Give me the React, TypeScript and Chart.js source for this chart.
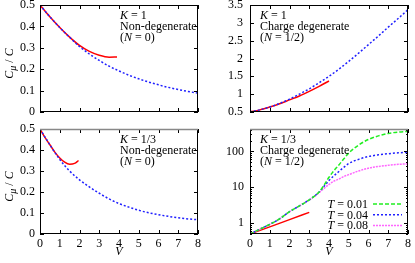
import { useEffect, useRef } from 'react';
import { Chart, registerables } from 'chart.js';

Chart.register(...registerables);

const FONT = '"Liberation Serif", "DejaVu Serif", serif';
const FS = 12;

// ---------- data ----------
const xTicks = [0, 1, 2, 3, 4, 5, 6, 7, 8];
const yTicksNonDeg = [0, 0.1, 0.2, 0.3, 0.4, 0.5];
const yTicksDeg1 = [0.5, 1, 1.5, 2, 2.5, 3, 3.5];
const yTicksLog = [0.5, 0.6, 0.7, 0.8, 0.9, 1, 2, 3, 4, 5, 6, 7, 8, 9, 10, 20, 30, 40, 50, 60, 70, 80, 90, 100, 200, 300, 400];
const yLogMajor = [1, 10, 100];

const vGrid = [0, 0.5, 1, 1.5, 2, 2.5, 3, 3.5, 4, 4.5, 5, 5.5, 6, 6.5, 7, 7.5, 8];

// K = 1, non-degenerate
const k1NonDegExact = [0.5, 0.445, 0.395, 0.349, 0.306, 0.271, 0.241, 0.214, 0.192, 0.172, 0.155, 0.14, 0.127, 0.115, 0.105, 0.096, 0.088];
const k1NonDegApproxV = [0, 0.5, 1, 1.5, 2, 2.5, 3, 3.5, 3.9];
const k1NonDegApprox = [0.5, 0.445, 0.395, 0.35, 0.311, 0.283, 0.265, 0.256, 0.257];

// K = 1, charge degenerate
const k1DegExact = [0.5, 0.56, 0.64, 0.74, 0.86, 1.0, 1.15, 1.32, 1.5, 1.7, 1.92, 2.15, 2.39, 2.63, 2.88, 3.12, 3.37];
const k1DegApproxV = [0, 0.5, 1, 1.5, 2, 2.5, 3, 3.5, 4];
const k1DegApprox = [0.5, 0.56, 0.64, 0.73, 0.84, 0.95, 1.08, 1.22, 1.37];

// K = 1/3, non-degenerate
const k3NonDegExact = [0.5, 0.425, 0.355, 0.3, 0.258, 0.224, 0.194, 0.167, 0.145, 0.128, 0.113, 0.101, 0.092, 0.084, 0.077, 0.072, 0.068];
const k3NonDegApproxV = [0, 0.25, 0.5, 0.75, 1, 1.25, 1.5, 1.75, 1.95];
const k3NonDegApprox = [0.5, 0.46, 0.425, 0.39, 0.362, 0.342, 0.332, 0.336, 0.35];

// K = 1/3, charge degenerate (log scale)
const vLog = [0, 0.5, 1, 1.5, 2, 2.5, 3, 3.25, 3.5, 3.75, 4, 4.25, 4.5, 4.75, 5, 5.5, 6, 6.5, 7, 7.5, 8];
const k3DegT001 = [0.5, 0.68, 0.93, 1.32, 2.09, 3.02, 4.47, 5.6, 7.4, 11.5, 19, 29, 42, 62, 90, 150, 215, 270, 316, 345, 360];
const k3DegT004 = [0.5, 0.68, 0.93, 1.32, 2.09, 3.02, 4.47, 5.6, 7.4, 10.7, 15.5, 21, 27.5, 36, 46, 60, 72, 80, 86, 91, 94];
const k3DegT008 = [0.5, 0.68, 0.93, 1.32, 2.09, 3.02, 4.45, 5.5, 7.1, 9.3, 12, 14.8, 17, 20, 22.5, 28.5, 34, 38, 41, 43.5, 45];
const k3DegApproxV = [0, 1, 2, 3];
const k3DegApprox = [0.5, 0.79, 1.26, 2.0];

const legendLabels = ['0.01', '0.04', '0.08'];

// ---------- styles ----------
const RED = '#ff0000';
const BLUE = '#2020ff';
const GREEN = '#22ee22';
const MAGENTA = '#ff66ff';

type Seg = { t: string; it?: boolean; sub?: boolean };

function segFont(s: Seg, size: number) {
  return `${s.it ? 'italic ' : ''}${s.sub ? Math.round(size * 0.8) : size}px ${FONT}`;
}

function drawRich(ctx: CanvasRenderingContext2D, segs: Seg[], x: number, y: number, size: number, align: 'left' | 'right' | 'center') {
  let total = 0;
  const ws = segs.map((s) => {
    ctx.font = segFont(s, size);
    const w = ctx.measureText(s.t).width;
    total += w;
    return w;
  });
  let cx = align === 'left' ? x : align === 'right' ? x - total : x - total / 2;
  ctx.textAlign = 'left';
  ctx.textBaseline = 'alphabetic';
  segs.forEach((s, i) => {
    ctx.font = segFont(s, size);
    ctx.fillText(s.t, cx, y + (s.sub ? 3 : 0));
    cx += ws[i];
  });
}

const noteLines = (k: string, kind: string, n: string): Seg[][] => [
  [{ t: 'K', it: true }, { t: ' = ' + k }],
  [{ t: kind }],
  [{ t: '(' }, { t: 'N', it: true }, { t: ' = ' + n + ')' }],
];

const framePlugin = {
  id: 'frame',
  afterDraw(chart: any, _args: any, opts: any) {
    const { ctx, chartArea: a, scales } = chart;
    ctx.save();
    ctx.fillStyle = '#000';
    ctx.strokeStyle = '#000';
    ctx.lineWidth = 1;
    const xs = scales.x;
    const ys = scales.y;
    ctx.beginPath();
    xs.ticks.forEach((t: any) => {
      const px = Math.round(xs.getPixelForValue(t.value)) + 0.5;
      ctx.moveTo(px, a.bottom);
      ctx.lineTo(px, a.bottom - 4);
      ctx.moveTo(px, a.top);
      ctx.lineTo(px, a.top + 4);
    });
    ys.ticks.forEach((t: any) => {
      const major = !opts.logMajor || opts.logMajor.includes(t.value);
      const L = major ? 4 : 2;
      const py = Math.round(ys.getPixelForValue(t.value)) + 0.5;
      ctx.moveTo(a.left, py);
      ctx.lineTo(a.left + L, py);
      ctx.moveTo(a.right, py);
      ctx.lineTo(a.right - L, py);
    });
    ctx.stroke();
    // border
    ctx.beginPath();
    ctx.moveTo(a.left + 0.5, a.top);
    ctx.lineTo(a.left + 0.5, a.bottom);
    ctx.moveTo(a.left, a.bottom - 0.5);
    ctx.lineTo(a.right, a.bottom - 0.5);
    ctx.moveTo(a.right - 0.5, a.bottom);
    ctx.lineTo(a.right - 0.5, a.top);
    ctx.stroke();
    ctx.beginPath();
    ctx.strokeStyle = opts.topColor || '#000';
    ctx.lineWidth = opts.topWidth || 1;
    ctx.moveTo(a.left, a.top + 0.5);
    ctx.lineTo(a.right, a.top + 0.5);
    ctx.stroke();

    // notes
    (opts.notes || []).forEach((line: Seg[], i: number) => {
      drawRich(ctx, line, a.left + opts.noteDx, a.top + 14 + i * 11, FS, 'left');
    });

    // y label
    if (opts.yLabel) {
      ctx.save();
      ctx.translate(13, (a.top + a.bottom) / 2 + 5);
      ctx.rotate(-Math.PI / 2);
      drawRich(ctx, [{ t: 'C', it: true }, { t: 'μ', it: true, sub: true }, { t: ' / ' }, { t: 'C', it: true }], 0, 0, FS, 'center');
      ctx.restore();
    }
    // x label
    if (opts.xLabel) {
      drawRich(ctx, [{ t: 'V', it: true }], (a.left + a.right) / 2, a.bottom + 21, FS, 'center');
    }
    // legend
    if (opts.legend) {
      opts.legend.forEach((item: any, i: number) => {
        const by = a.bottom - 26 + i * 10.7;
        drawRich(ctx, [{ t: 'T', it: true }, { t: ' = ' + item.label }], a.left + 118, by, FS, 'right');
        ctx.beginPath();
        ctx.strokeStyle = item.color;
        ctx.lineWidth = 1.5;
        ctx.setLineDash(item.dash);
        ctx.moveTo(a.left + 123, by - 4);
        ctx.lineTo(a.left + 152, by - 4);
        ctx.stroke();
        ctx.setLineDash([]);
      });
    }
    ctx.restore();
  },
};

const pts = (vs: number[], cs: number[]) => vs.map((v, i) => ({ x: v, y: cs[i] }));

type PanelCfg = {
  left: number; top: number; w: number; h: number;
  yW: number; xH: number; padTop: number; padRight: number;
  showX: boolean; yTicks: number[]; yMin: number; yMax: number; log?: boolean;
  yPad: number;
  datasets: any[];
  frame: any;
};

function buildConfig(cfg: PanelCfg): any {
  const zeroPad = (s: any) => { s.paddingTop = 0; s.paddingBottom = 0; s.paddingLeft = 0; s.paddingRight = 0; };
  return {
    type: 'line',
    data: { datasets: cfg.datasets },
    plugins: [framePlugin],
    options: {
      animation: false,
      responsive: false,
      maintainAspectRatio: false,
      layout: { padding: { top: cfg.padTop, right: cfg.padRight, left: 0, bottom: 0 } },
      elements: { point: { radius: 0 } },
      plugins: { legend: { display: false }, tooltip: { enabled: false }, frame: cfg.frame },
      scales: {
        x: {
          type: 'linear', min: 0, max: 8,
          afterBuildTicks: (s: any) => { s.ticks = xTicks.map((v) => ({ value: v })); },
          ticks: { display: cfg.showX, autoSkip: false, maxRotation: 0, padding: 3, color: '#000', font: { family: FONT, size: FS }, callback: (v: any) => String(v) },
          grid: { display: false, drawTicks: false },
          border: { display: false },
          afterFit: (s: any) => { s.height = cfg.xH; zeroPad(s); },
        },
        y: {
          type: cfg.log ? 'logarithmic' : 'linear', min: cfg.yMin, max: cfg.yMax,
          afterBuildTicks: (s: any) => { s.ticks = cfg.yTicks.map((v) => ({ value: v })); },
          ticks: {
            autoSkip: false, padding: cfg.yPad, color: '#000', font: { family: FONT, size: FS },
            callback: (v: any) => (cfg.log ? (yLogMajor.includes(v) ? String(v) : '') : String(Math.round(v * 10) / 10)),
          },
          grid: { display: false, drawTicks: false },
          border: { display: false },
          afterFit: (s: any) => { s.width = cfg.yW; zeroPad(s); },
        },
      },
    },
  };
}

const line = (data: any[], color: string, dash: number[] = []) => ({
  data, borderColor: color, borderWidth: 1.5, borderDash: dash, pointRadius: 0, fill: false, tension: 0.4, cubicInterpolationMode: 'monotone',
});

const panels: PanelCfg[] = [
  {
    left: 0, top: 0, w: 207, h: 120, yW: 40, xH: 8, padTop: 5, padRight: 9, showX: false,
    yTicks: yTicksNonDeg, yMin: 0, yMax: 0.5, yPad: 5,
    datasets: [line(pts(vGrid, k1NonDegExact), BLUE, [2, 2]), line(pts(k1NonDegApproxV, k1NonDegApprox), RED)],
    frame: { notes: noteLines('1', 'Non-degenerate', '0'), noteDx: 80, yLabel: true },
  },
  {
    left: 207, top: 0, w: 208, h: 120, yW: 43, xH: 8, padTop: 5, padRight: 7, showX: false,
    yTicks: yTicksDeg1, yMin: 0.5, yMax: 3.5, yPad: 7,
    datasets: [line(pts(vGrid, k1DegExact), BLUE, [2, 2]), line(pts(k1DegApproxV, k1DegApprox), RED)],
    frame: { notes: noteLines('1', 'Charge degenerate', '1/2'), noteDx: 10 },
  },
  {
    left: 0, top: 120, w: 207, h: 143, yW: 40, xH: 29, padTop: 9, padRight: 9, showX: true,
    yTicks: yTicksNonDeg, yMin: 0, yMax: 0.5, yPad: 5,
    datasets: [line(pts(vGrid, k3NonDegExact), BLUE, [2, 2]), line(pts(k3NonDegApproxV, k3NonDegApprox), RED)],
    frame: { notes: noteLines('1/3', 'Non-degenerate', '0'), noteDx: 80, yLabel: true, xLabel: true, topColor: '#888', topWidth: 1.5 },
  },
  {
    left: 207, top: 120, w: 208, h: 143, yW: 43, xH: 29, padTop: 9, padRight: 7, showX: true, log: true,
    yTicks: yTicksLog, yMin: 0.5, yMax: 420, yPad: 6,
    datasets: [
      line(pts(vLog, k3DegT001), GREEN, [4, 2]),
      line(pts(vLog, k3DegT004), BLUE, [2, 2]),
      line(pts(vLog, k3DegT008), MAGENTA, [2, 1]),
      { ...line(pts(k3DegApproxV, k3DegApprox), RED), tension: 0 },
    ],
    frame: {
      notes: noteLines('1/3', 'Charge degenerate', '1/2'), noteDx: 10, xLabel: true, logMajor: yLogMajor, topColor: '#888', topWidth: 1.5,
      legend: [
        { label: legendLabels[0], color: GREEN, dash: [4, 2] },
        { label: legendLabels[1], color: BLUE, dash: [2, 2] },
        { label: legendLabels[2], color: MAGENTA, dash: [2, 1] },
      ],
    },
  },
];

function Panel({ cfg }: { cfg: PanelCfg }) {
  const ref = useRef<HTMLCanvasElement>(null);
  useEffect(() => {
    const chart = new Chart(ref.current as HTMLCanvasElement, buildConfig(cfg));
    return () => chart.destroy();
  }, [cfg]);
  return (
    <canvas
      ref={ref}
      width={cfg.w}
      height={cfg.h}
      style={{ position: 'absolute', left: cfg.left, top: cfg.top, width: cfg.w, height: cfg.h }}
    />
  );
}

export default function App() {
  return (
    <div style={{ position: 'absolute', left: 0, top: 0, width: 415, height: 263, background: '#fff' }}>
      {panels.map((p, i) => (
        <Panel key={i} cfg={p} />
      ))}
    </div>
  );
}
